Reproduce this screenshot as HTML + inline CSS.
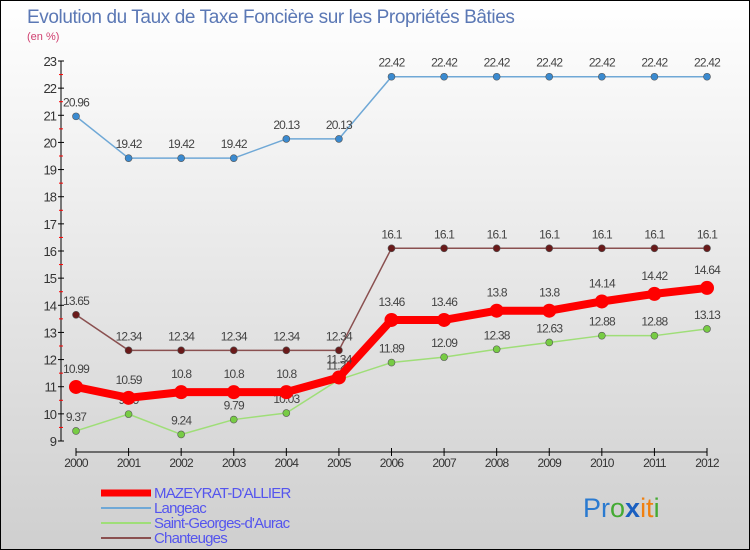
<!DOCTYPE html>
<html><head><meta charset="utf-8"><style>
body{margin:0}
#c{width:750px;height:550px;position:relative;box-sizing:border-box;border:1px solid #000;background:linear-gradient(#ffffff,#cfcfcf);font-family:"Liberation Sans","DejaVu Sans",sans-serif;overflow:hidden}
svg text{font-family:"Liberation Sans","DejaVu Sans",sans-serif}
</style></head><body>
<div id="c">
<svg id="s" width="750" height="550">
<text x="26" y="22" font-size="19" fill="#5b78b5" letter-spacing="-0.4">Evolution du Taux de Taxe Foncière sur les Propriétés Bâties</text>
<text x="26" y="39" font-size="11" fill="#d04070">(en %)</text>
<g id="g"></g>
<g>
<line x1="100" y1="492" x2="150" y2="492" stroke="#f00" stroke-width="7"/>
<line x1="100" y1="507" x2="150" y2="507" stroke="#6fa8d6" stroke-width="2"/>
<line x1="100" y1="522" x2="150" y2="522" stroke="#9fde78" stroke-width="2"/>
<line x1="100" y1="537" x2="150" y2="537" stroke="#8a5050" stroke-width="2"/>
<g font-size="15" fill="#5555ee" letter-spacing="-0.8">
<text x="153" y="497">MAZEYRAT-D'ALLIER</text>
<text x="153" y="512">Langeac</text>
<text x="153" y="527">Saint-Georges-d'Aurac</text>
<text x="153" y="542">Chanteuges</text>
</g></g>
<text x="582" y="516" font-size="27"><tspan fill="#2a7ad0">Pr</tspan><tspan fill="#44aa33">o</tspan><tspan fill="#1a5fc0" font-weight="bold">x</tspan><tspan fill="#f08010">it</tspan><tspan fill="#44aa33">i</tspan></text>
</svg></div>
<script>
const years=[2000,2001,2002,2003,2004,2005,2006,2007,2008,2009,2010,2011,2012];
const mazeyrat=[10.99,10.59,10.8,10.8,10.8,11.34,13.46,13.46,13.8,13.8,14.14,14.42,14.64];
const langeac=[20.96,19.42,19.42,19.42,20.13,20.13,22.42,22.42,22.42,22.42,22.42,22.42,22.42];
const stgeorges=[9.37,9.99,9.24,9.79,10.03,11.26,11.89,12.09,12.38,12.63,12.88,12.88,13.13];
const chanteuges=[13.65,12.34,12.34,12.34,12.34,12.34,16.1,16.1,16.1,16.1,16.1,16.1,16.1];
const yTicks=[9,10,11,12,13,14,15,16,17,18,19,20,21,22,23];
const NS='http://www.w3.org/2000/svg';
const g=document.getElementById('g');
const xs=i=>75+i*(631/12);
const ys=v=>440-(v-9)*(380/14);
function mk(t,a){const e=document.createElementNS(NS,t);for(const k in a)e.setAttribute(k,a[k]);g.appendChild(e);return e;}
let ax=mk('line',{x1:60,y1:60,x2:60,y2:440,stroke:'#000','stroke-width':1});


yTicks.forEach(v=>{
 mk('line',{x1:57,y1:ys(v),x2:63,y2:ys(v),stroke:'#000'});
 if(v<23)mk('line',{x1:58,y1:ys(v+0.5),x2:62,y2:ys(v+0.5),stroke:'#f00'});
 const t=mk('text',{x:55,y:ys(v)+5,'font-size':13,fill:'#333','text-anchor':'end','letter-spacing':'-1'});t.textContent=v;
 
 
});
let xa=mk('line',{x1:75,y1:451,x2:706,y2:451,stroke:'#000'});


years.forEach((y,i)=>{
 mk('line',{x1:xs(i),y1:447,x2:xs(i),y2:455,stroke:'#000'});
 const t=mk('text',{x:xs(i),y:466,'font-size':12,fill:'#333','text-anchor':'middle','letter-spacing':'-0.8'});t.textContent=y;
 
 
});
function series(d,name,col,w,r,dot){
 const p=mk('polyline',{points:d.map((v,i)=>xs(i)+','+ys(v)).join(' '),fill:'none',stroke:col,'stroke-width':w,'stroke-linejoin':'round'});
 
 
 d.forEach((v,i)=>{
  const c=mk('circle',{cx:xs(i),cy:ys(v),r:r,fill:dot,stroke:'#555','stroke-width':r>5?0:0.6});
  
  
  const t=mk('text',{x:xs(i),y:ys(v)-(r>5?14:10),'font-size':12,fill:'#444','text-anchor':'middle','letter-spacing':'-0.8'});t.textContent=v;
  
  
 });
}
series(langeac,'langeac','#6fa8d6',1.5,3.5,'#3a8ad0');
series(chanteuges,'chanteuges','#8a5050',1.5,3.5,'#6a1a1a');
series(stgeorges,'saint-georges','#9fde78',1.5,3.5,'#77cc44');
series(mazeyrat,'mazeyrat','#f00',8,7,'#f00');
</script>
</body></html>
